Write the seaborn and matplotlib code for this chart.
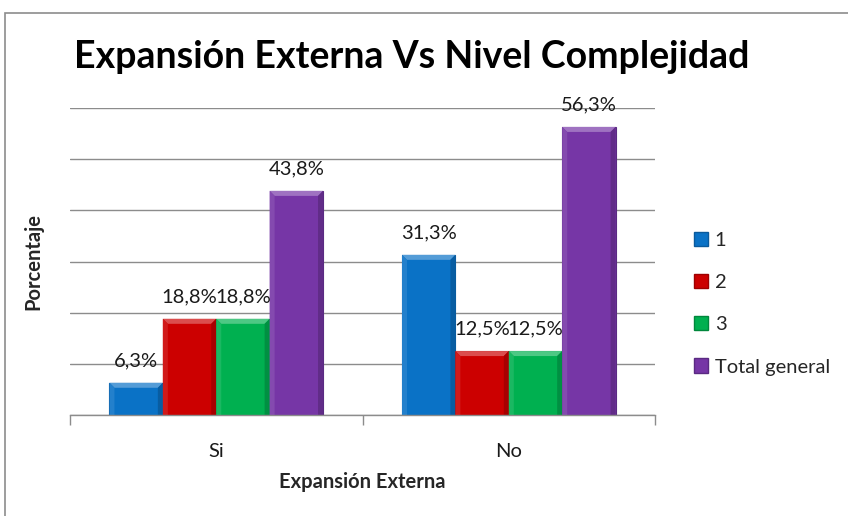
import matplotlib
matplotlib.use("Agg")
import matplotlib.pyplot as plt
import seaborn as sns
import pandas as pd
import matplotlib.colors as mcolors
from matplotlib.patches import Rectangle, Polygon

categorias = ["Si", "No"]
series = ["1", "2", "3", "Total general"]
valores_1 = [6.3, 31.3]
valores_2 = [18.8, 12.5]
valores_3 = [18.8, 12.5]
valores_total = [43.8, 56.3]
colores = ["#0A72C6", "#CC0000", "#00B050", "#7636A6"]
bordes = ["#0A5A9C", "#9E0000", "#00873C", "#5A2A82"]

rows = []
for s, vals in zip(series, [valores_1, valores_2, valores_3, valores_total]):
    for c, v in zip(categorias, vals):
        rows.append({"cat": c, "serie": s, "val": v})
df = pd.DataFrame(rows)

sns.set_theme(style="white")
plt.rcParams["font.family"] = ["Lato", "DejaVu Sans"]

fig = plt.figure(figsize=(8.48, 5.16), dpi=100)
ax = fig.add_axes([0.0825, 0.1957, 0.690, 0.595])

sns.barplot(data=df, x="cat", y="val", hue="serie", order=categorias,
            hue_order=series, palette=colores, width=0.73, ax=ax,
            saturation=1, errorbar=None, legend=True)

ax.set_ylim(0, 60)
ax.set_xlim(-0.5, 1.5)


def mix(c, other, t):
    a = mcolors.to_rgb(c)
    b = mcolors.to_rgb(other)
    return tuple(a[k] * (1 - t) + b[k] * t for k in range(3))


bx = 5 / 292.0   # bevel width in x data units (~5 px)
by = 5 * 60 / 307.0  # bevel height in y data units (~5 px)

for i, cont in enumerate(ax.containers):
    base = colores[i]
    for p in cont.patches:
        p.set_edgecolor(bordes[i])
        p.set_linewidth(0.8)
        x0 = p.get_x()
        w = p.get_width()
        h = p.get_height()
        x1 = x0 + w
        ax.add_patch(Polygon([(x0, h), (x1, h), (x1 - bx, h - by), (x0 + bx, h - by)],
                             closed=True, facecolor=mix(base, "white", 0.3),
                             edgecolor="none", zorder=p.get_zorder() + 0.1))
        ax.add_patch(Polygon([(x0, 0), (x0, h), (x0 + bx, h - by), (x0 + bx, 0)],
                             closed=True, facecolor=mix(base, "white", 0.1),
                             edgecolor="none", zorder=p.get_zorder() + 0.1))
        ax.add_patch(Polygon([(x1, 0), (x1, h), (x1 - bx, h - by), (x1 - bx, 0)],
                             closed=True, facecolor=mix(base, "black", 0.18),
                             edgecolor="none", zorder=p.get_zorder() + 0.1))
    labels = [f"{v:.1f}%".replace(".", ",") for v in cont.datavalues]
    for p, lab in zip(cont.patches, labels):
        ax.annotate(lab, (p.get_x() + p.get_width() / 2, p.get_height()),
                    xytext=(0, 16), textcoords="offset points",
                    ha="center", va="center", fontsize=14.5, color="#1a1a1a")

ax.set_yticks([0, 10, 20, 30, 40, 50, 60])
ax.set_yticklabels([])
ax.tick_params(axis="y", length=0)
ax.yaxis.grid(True, color="#8c8c8c", linewidth=1.0)
ax.set_axisbelow(True)
for sp in ["top", "right", "left"]:
    ax.spines[sp].set_visible(False)
ax.spines["bottom"].set_color("#8c8c8c")
ax.spines["bottom"].set_linewidth(1.0)

ax.set_xticks([0, 1])
ax.set_xticklabels(categorias, fontsize=14.5)
ax.set_xticks([-0.5, 0.5, 1.5], minor=True)
ax.tick_params(axis="x", which="major", length=0, pad=20, labelcolor="#1a1a1a")
ax.tick_params(axis="x", which="minor", length=7, width=1.0, color="#8c8c8c", bottom=True)

ax.set_xlabel("Expansión Externa", fontsize=14.5, fontweight="bold", labelpad=9)
ax.set_ylabel("Porcentaje", fontsize=14.5, fontweight="bold", labelpad=16)

fig.text(0.4855, 0.889, "Expansión Externa Vs Nivel Complejidad",
         ha="center", va="center", fontsize=27, fontweight="bold", color="#000000")

leg = ax.legend(loc="center left", bbox_to_anchor=(1.035, 0.363), frameon=False,
                fontsize=14.5, handlelength=0.7, handleheight=0.7,
                labelspacing=1.25, handletextpad=0.35)
for h, b in zip(leg.legend_handles, bordes):
    h.set_edgecolor(b)

fig.patches.append(Rectangle((5 / 848, -0.1), 1.2, 1 - 13 / 516 + 0.1,
                             transform=fig.transFigure, fill=False,
                             edgecolor="#8c8c8c", linewidth=1.2))

fig.savefig("out.png", dpi=100)
